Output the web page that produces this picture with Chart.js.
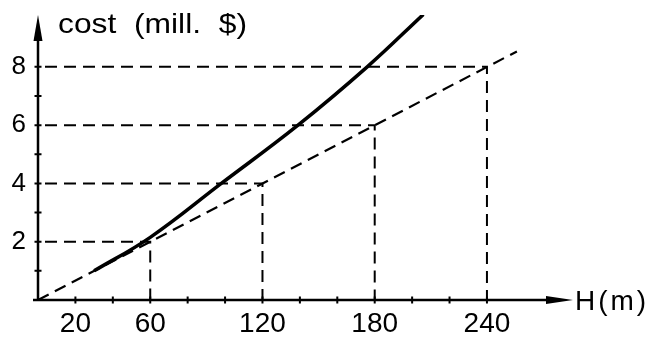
<!DOCTYPE html>
<html>
<head>
<meta charset="utf-8">
<script src="https://cdn.jsdelivr.net/npm/chart.js@4.4.1/dist/chart.umd.min.js"></script>
<style>
  html, body { margin: 0; padding: 0; background: #fff; }
</style>
</head>
<body>
<canvas id="myChart" width="647" height="337"></canvas>
<script>
// straight dashed line
const lineH = [0, 256];
const lineCost = [0, 8.53];
// solid curve
const curveH = [30, 60, 98, 139, 176, 206];
const curveCost = [1.0, 2.15, 4, 6, 8, 9.8];
// guide points on the straight line
const guideH = [60, 120, 180, 240];
const guideCost = [2, 4, 6, 8];
// ticks
const xTickMarks = [20, 40, 60, 80, 100, 120, 140, 160, 180, 200, 220, 240];
const yTickMarks = [1, 2, 3, 4, 5, 6, 7, 8];
const xTickLabels = [20, 60, 120, 180, 240];
const yTickLabels = [2, 4, 6, 8];

const FONT = "'Liberation Sans', Arial, sans-serif";

const datasets = [
  {
    data: curveH.map((h, i) => ({ x: h, y: curveCost[i] })),
    borderColor: '#000',
    borderWidth: 3.5,
    tension: 0.4
  },
  {
    data: lineH.map((h, i) => ({ x: h, y: lineCost[i] })),
    borderColor: '#000',
    borderWidth: 2.2,
    borderDash: [12, 7]
  }
];
guideH.forEach((h, i) => {
  datasets.push({
    data: [{ x: 0, y: guideCost[i] }, { x: h, y: guideCost[i] }, { x: h, y: 0 }],
    borderColor: '#000',
    borderWidth: 2,
    borderDash: [12, 7],
    borderDashOffset: -7
  });
});
datasets.forEach(d => {
  d.showLine = true;
  d.fill = false;
  d.pointRadius = 0;
  d.pointHoverRadius = 0;
});

// axes with arrows, crossing tick marks, axis titles
const axesPlugin = {
  id: 'axes',
  afterDatasetsDraw(chart) {
    const ctx = chart.ctx;
    const x = chart.scales.x, y = chart.scales.y;
    const x0 = x.getPixelForValue(0), y0 = y.getPixelForValue(0);
    const xEnd = chart.chartArea.right, yEnd = chart.chartArea.top;
    ctx.save();
    ctx.strokeStyle = '#000';
    ctx.fillStyle = '#000';
    ctx.lineWidth = 2.5;
    ctx.beginPath();
    ctx.moveTo(x0 - 5, y0);
    ctx.lineTo(xEnd - 20, y0);
    ctx.moveTo(x0, y0 + 1);
    ctx.lineTo(x0, yEnd + 20);
    ctx.stroke();
    // arrowheads
    ctx.beginPath();
    ctx.moveTo(xEnd, y0);
    ctx.lineTo(xEnd - 27, y0 - 4);
    ctx.lineTo(xEnd - 27, y0 + 4);
    ctx.closePath();
    ctx.fill();
    ctx.beginPath();
    ctx.moveTo(x0, yEnd);
    ctx.lineTo(x0 - 4.5, yEnd + 26);
    ctx.lineTo(x0 + 4.5, yEnd + 26);
    ctx.closePath();
    ctx.fill();
    // tick marks
    ctx.lineWidth = 2;
    ctx.beginPath();
    xTickMarks.forEach(v => {
      const px = x.getPixelForValue(v);
      ctx.moveTo(px, y0 - 3.5);
      ctx.lineTo(px, y0 + 3.5);
    });
    yTickMarks.forEach(v => {
      const py = y.getPixelForValue(v);
      ctx.moveTo(x0 - 3.5, py);
      ctx.lineTo(x0 + 3.5, py);
    });
    ctx.stroke();
    // y title, stretched like the plotter lettering
    ctx.font = '28px ' + FONT;
    ctx.textBaseline = 'alphabetic';
    ctx.textAlign = 'left';
    const title = 'cost  (mill.  $)';
    const w = ctx.measureText(title).width;
    ctx.save();
    ctx.translate(x0 + 20, yEnd + 18);
    ctx.scale(189 / w, 1);
    ctx.fillText(title, 0, 0);
    ctx.restore();
    // x title
    ctx.font = '28px ' + FONT;
    ctx.letterSpacing = '3px';
    ctx.textBaseline = 'middle';
    ctx.fillText('H(m)', xEnd + 2, y0 + 2);
    ctx.restore();
  }
};

const config = {
  type: 'scatter',
  data: { datasets },
  options: {
    responsive: false,
    animation: false,
    devicePixelRatio: 1,
    layout: { padding: { top: 15, right: 74, left: 0, bottom: 0 } },
    plugins: { legend: { display: false }, tooltip: { enabled: false } },
    scales: {
      x: {
        type: 'linear',
        min: 0,
        max: 286,
        afterFit(s) {
          s.height = 37;
          s.paddingLeft = 0;
          s.paddingRight = 0;
        },
        grid: { display: false, drawTicks: false },
        border: { display: false },
        ticks: {
          stepSize: 20,
          autoSkip: false,
          maxRotation: 0,
          padding: 7,
          color: '#000',
          font: { family: FONT, size: 28 },
          callback: v => xTickLabels.includes(v) ? String(v) : ''
        }
      },
      y: {
        type: 'linear',
        min: 0,
        max: 9.78,
        afterFit(s) {
          s.width = 38;
          s.paddingTop = 0;
          s.paddingBottom = 0;
        },
        grid: { display: false, drawTicks: false },
        border: { display: false },
        ticks: {
          stepSize: 1,
          autoSkip: false,
          padding: 12,
          color: '#000',
          font: { family: FONT, size: 26 },
          callback: v => yTickLabels.includes(v) ? String(v) : ''
        }
      }
    }
  },
  plugins: [axesPlugin]
};

const myChart = new Chart(document.getElementById('myChart'), config);
</script>
</body>
</html>
